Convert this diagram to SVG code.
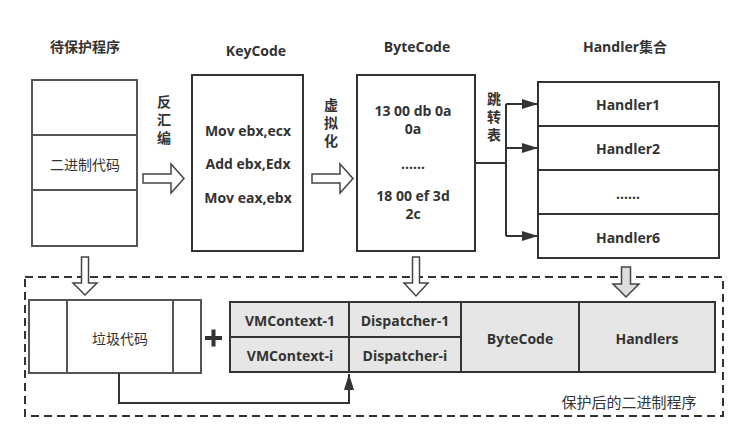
<svg xmlns="http://www.w3.org/2000/svg" width="748" height="442" viewBox="0 0 748 442">
<defs>
<style>
text{font-family:"Open Sans","Noto Sans CJK SC",sans-serif;font-size:14px;fill:#333;text-anchor:middle;dominant-baseline:central}
.b{font-weight:bold}
.cj{font-family:"Noto Sans CJK SC",sans-serif;font-weight:bold}
.cjr{font-family:"Noto Sans CJK SC",sans-serif;font-weight:normal}
.vt{font-family:"Noto Sans CJK SC",sans-serif;font-weight:bold;writing-mode:vertical-rl;letter-spacing:4px}
.box{fill:#fff;stroke:#333;stroke-width:2}
.gbox{fill:#fff;stroke:#555;stroke-width:2}
.tbl{fill:#e6e6e6;stroke:#333;stroke-width:2}
.ln{fill:none;stroke:#333;stroke-width:2}
.hollow{fill:#fff;stroke:#444;stroke-width:1.5}
</style>
<marker id="ah2" viewBox="0 0 10 10" refX="10" refY="5" markerWidth="16" markerHeight="10" markerUnits="userSpaceOnUse" orient="auto" preserveAspectRatio="none">
<path d="M0,0 L10,5 L0,10 z" fill="#333"/>
</marker>
</defs>
<rect width="748" height="442" fill="#fff"/>

<g id="titles">
<text x="85" y="46" class="cj">待保护程序</text>
<text x="256" y="50" class="b">KeyCode</text>
<text x="417" y="46" class="b">ByteCode</text>
<text x="625" y="46" class="b">Handler<tspan class="cj">集合</tspan></text>
</g>

<g id="src">
<rect x="32" y="80" width="105" height="166" class="gbox"/>
<line x1="32" y1="135" x2="137" y2="135" stroke="#555" stroke-width="2"/>
<line x1="32" y1="190" x2="137" y2="190" stroke="#555" stroke-width="2"/>
<text x="85" y="164" class="cjr">二进制代码</text>
</g>

<g id="keycode">
<rect x="192" y="75" width="111" height="176" class="box"/>
<text x="248" y="130" class="b">Mov ebx,ecx</text>
<text x="248" y="163" class="b">Add ebx,Edx</text>
<text x="248" y="197" class="b">Mov eax,ebx</text>
</g>

<g id="bytecode">
<rect x="357" y="75" width="118" height="176" class="box"/>
<text x="413" y="110" class="b">13 00 db 0a</text>
<text x="413" y="128" class="b">0a</text>
<text x="413" y="163" class="b">......</text>
<text x="413" y="195" class="b">18 00 ef 3d</text>
<text x="413" y="213" class="b">2c</text>
</g>

<g id="handlers">
<rect x="538" y="82" width="181" height="176" class="box"/>
<line x1="538" y1="126" x2="719" y2="126" stroke="#333" stroke-width="2"/>
<line x1="538" y1="170" x2="719" y2="170" stroke="#333" stroke-width="2"/>
<line x1="538" y1="214" x2="719" y2="214" stroke="#333" stroke-width="2"/>
<text x="628" y="104" class="b">Handler1</text>
<text x="628" y="148" class="b">Handler2</text>
<text x="628" y="193" class="b">......</text>
<text x="628" y="237" class="b">Handler6</text>
</g>

<g id="labels">
<text x="164" y="122" class="vt">反汇编</text>
<text x="331" y="125" class="vt">虚拟化</text>
<text x="494" y="119" class="vt">跳转表</text>
</g>

<g id="container">
<rect x="25" y="277" width="698" height="139" fill="none" stroke="#333" stroke-width="2" stroke-dasharray="8,5"/>
<text x="629" y="401" class="cjr" style="font-size:15px">保护后的二进制程序</text>
</g>

<g id="junk">
<rect x="29" y="300" width="172" height="73" class="gbox"/>
<line x1="67" y1="300" x2="67" y2="373" stroke="#555" stroke-width="2"/>
<line x1="173" y1="300" x2="173" y2="373" stroke="#555" stroke-width="2"/>
<text x="120" y="338" class="cjr">垃圾代码</text>
</g>

<g id="plus">
<path d="M205,338 H222 M213.5,329.5 V346.5" stroke="#333" stroke-width="4" fill="none"/>
</g>

<g id="table">
<rect x="230" y="302" width="485" height="70" class="tbl"/>
<line x1="230" y1="337" x2="461" y2="337" stroke="#333" stroke-width="2"/>
<line x1="349" y1="302" x2="349" y2="372" stroke="#333" stroke-width="2"/>
<line x1="461" y1="302" x2="461" y2="372" stroke="#333" stroke-width="2"/>
<line x1="579" y1="302" x2="579" y2="372" stroke="#333" stroke-width="2"/>
<text x="290" y="320" class="b">VMContext-1</text>
<text x="290" y="355" class="b">VMContext-i</text>
<text x="405" y="320" class="b">Dispatcher-1</text>
<text x="405" y="355" class="b">Dispatcher-i</text>
<text x="520" y="338" class="b">ByteCode</text>
<text x="647" y="338" class="b">Handlers</text>
</g>

<g id="connectors">
<path d="M143,174 H171 V164 L184,178.5 L171,193 V183 H143 Z" class="hollow"/>
<path d="M312,174 H340 V164 L353,178.5 L340,193 V183 H312 Z" class="hollow"/>
<path d="M475,163 H506"  class="ln"/>
<path d="M506,104 V236" class="ln"/>
<path d="M506,104 H538" class="ln" marker-end="url(#ah2)"/>
<path d="M506,148 H538" class="ln" marker-end="url(#ah2)"/>
<path d="M506,236 H538" class="ln" marker-end="url(#ah2)"/>
<path d="M81.5,257 H88.5 V283 H97 L85,295 L73,283 H81.5 Z" class="hollow"/>
<path d="M412.5,257 H419.5 V283 H428 L416,296 L404,283 H412.5 Z" class="hollow"/>
<path d="M621.5,267 H630.5 V284 H639 L626,297 L613,284 H621.5 Z" fill="#ddd" stroke="#444" stroke-width="1.5"/>
<path d="M119,373 V403 H349 V374" class="ln" marker-end="url(#ah2)"/>
</g>
</svg>
